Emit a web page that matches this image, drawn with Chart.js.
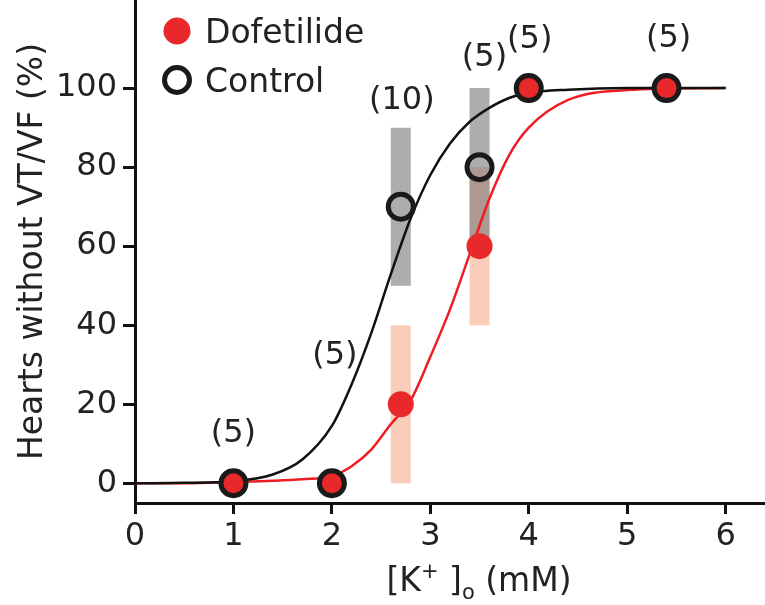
<!DOCTYPE html>
<html><head><meta charset="utf-8">
<script src="https://cdn.jsdelivr.net/npm/chart.js@4.4.0/dist/chart.umd.min.js"></script>
<style>html,body{margin:0;padding:0;background:#fff}#wrap{width:765px;height:605px}</style>
</head><body><div id="wrap"><canvas id="c" width="765" height="605"></canvas></div>
<script>
// ---- data ----
const seriesNames = ['Dofetilide', 'Control'];
const concentrations = [1, 2, 2.7, 3.5, 4, 5.4];
const controlValues = [0, 0, 70, 80, 100, 100];
const controlErrors = [0, 0, 20, 20, 0, 0];
const dofetilideValues = [0, 0, 20, 60, 100, 100];
const dofetilideErrors = [0, 0, 20, 20, 0, 0];
const sampleSizes = ['(5)', '(5)', '(10)', '(5)', '(5)', '(5)'];
const fitX = [0, 0.5, 1.0, 1.4, 1.7, 2.0, 2.2, 2.4, 2.6, 2.8, 3.0, 3.2, 3.4, 3.6, 3.8, 4.0, 4.4, 5.0, 6.0];
const controlFit = [0, 0.1, 0.5, 2.2, 6, 14.5, 25, 38, 53, 67, 78, 86, 91.5, 95, 97.5, 98.8, 99.6, 100, 100];
const dofetilideFit = [0, 0, 0.3, 0.6, 1.0, 1.8, 4.3, 8.5, 15, 21, 32, 44, 58, 72, 83, 90, 97, 99.5, 100];
const xTickValues = [0, 1, 2, 3, 4, 5, 6];
const yTickValues = [0, 20, 40, 60, 80, 100];
const yTitle = 'Hearts without VT/VF (%)';

// ---- layout / style (not data) ----
const FONT = '"DejaVu Sans", sans-serif';
const TXT = '#222';
const labelOffsets = [[0, -50], [3, -128], [1, -27], [5, -30], [1, -48], [2, -49]];

function pts(xs, ys) { return xs.map((x, i) => ({x: x, y: ys[i]})); }
function bars(xs, vals, errs) {
  const out = [];
  xs.forEach((x, i) => {
    if (errs[i] > 0) {
      out.push({x: x, y: vals[i] - errs[i]}, {x: x, y: vals[i] + errs[i]}, {x: x, y: null});
    }
  });
  return out;
}

const overlay = {
  id: 'overlay',
  afterDatasetsDraw(chart) {
    const ctx = chart.ctx, xs = chart.scales.x, ys = chart.scales.y;
    ctx.save();
    // sample size labels
    ctx.fillStyle = TXT;
    ctx.font = '32px ' + FONT;
    ctx.textAlign = 'center';
    ctx.textBaseline = 'middle';
    sampleSizes.forEach((t, i) => {
      const px = xs.getPixelForValue(concentrations[i]) + labelOffsets[i][0];
      const py = ys.getPixelForValue(controlValues[i] + controlErrors[i]) + labelOffsets[i][1];
      ctx.fillText(t, px, py);
    });
    // legend
    const lx = 177;
    ctx.beginPath(); ctx.arc(lx, 31, 13.5, 0, Math.PI * 2); ctx.fillStyle = '#e8282b'; ctx.fill();
    ctx.beginPath(); ctx.arc(lx, 80, 12.5, 0, Math.PI * 2); ctx.lineWidth = 5; ctx.strokeStyle = '#1a1a1a'; ctx.stroke();
    ctx.fillStyle = TXT;
    ctx.textAlign = 'left';
    ctx.textBaseline = 'alphabetic';
    ctx.font = '33px ' + FONT;
    ctx.fillText(seriesNames[0], 205, 43);
    ctx.fillText(seriesNames[1], 205, 92);
    // x axis title [K+]o (mM)
    const big = '33px ' + FONT, small = '21px ' + FONT;
    const parts = [['[K', big, 0], ['+', small, -13], [' ]', big, 0], ['o', small, 8], [' (mM)', big, 0]];
    let w = 0;
    parts.forEach(p => { ctx.font = p[1]; w += ctx.measureText(p[0]).width; });
    let x = 479 - w / 2;
    const base = 591;
    parts.forEach(p => { ctx.font = p[1]; ctx.fillText(p[0], x, base + p[2]); x += ctx.measureText(p[0]).width; });
    ctx.restore();
  }
};

new Chart(document.getElementById('c'), {
  type: 'scatter',
  data: {
    datasets: [
      {label: seriesNames[1], data: pts(concentrations, controlValues), order: 0,
       pointRadius: 12.5, pointBorderWidth: 5, pointBorderColor: '#1a1a1a', pointBackgroundColor: 'rgba(0,0,0,0)', showLine: false, clip: false},
      {label: seriesNames[0], data: pts(concentrations, dofetilideValues), order: 1,
       pointRadius: 13, pointBorderWidth: 0, pointBackgroundColor: '#e8282b', showLine: false, clip: false},
      {type: 'line', label: 'Control fit', data: pts(fitX, controlFit), order: 2,
       borderColor: '#111', borderWidth: 2.5, pointRadius: 0, cubicInterpolationMode: 'monotone', fill: false, clip: false},
      {type: 'line', label: 'Dofetilide fit', data: pts(fitX, dofetilideFit), order: 3,
       borderColor: '#ee1d23', borderWidth: 2.5, pointRadius: 0, cubicInterpolationMode: 'monotone', fill: false, clip: false},
      {type: 'line', label: 'Control SE', data: bars(concentrations, controlValues, controlErrors), order: 4,
       borderColor: 'rgba(118,118,118,0.6)', borderWidth: 20, borderCapStyle: 'butt', pointRadius: 0, spanGaps: false, fill: false},
      {type: 'line', label: 'Dofetilide SE', data: bars(concentrations, dofetilideValues, dofetilideErrors), order: 5,
       borderColor: '#facdbb', borderWidth: 20, borderCapStyle: 'butt', pointRadius: 0, spanGaps: false, fill: false}
    ]
  },
  options: {
    responsive: false,
    animation: false,
    events: [],
    layout: {padding: 0, autoPadding: false},
    plugins: {legend: {display: false}, tooltip: {enabled: false}},
    scales: {
      x: {
        type: 'linear', min: 0, max: 6.4,
        afterBuildTicks: s => { s.ticks = xTickValues.map(v => ({value: v})); },
        afterFit: s => { s.height = 102; s.paddingLeft = 0; s.paddingRight = 0; },
        border: {display: true, width: 3, color: '#111'},
        grid: {drawOnChartArea: false, drawTicks: true, tickLength: 11, tickWidth: 3, tickColor: '#111'},
        ticks: {color: TXT, font: {family: FONT, size: 32}, padding: 3, maxRotation: 0, autoSkip: false}
      },
      y: {
        type: 'linear', min: -5, max: 122.3,
        afterBuildTicks: s => { s.ticks = yTickValues.map(v => ({value: v})); },
        afterFit: s => { s.width = 135; s.paddingTop = 0; s.paddingBottom = 0; },
        border: {display: true, width: 3, color: '#111'},
        grid: {drawOnChartArea: false, drawTicks: true, tickLength: 12, tickWidth: 3, tickColor: '#111'},
        ticks: {color: TXT, font: {family: FONT, size: 32}, padding: 6, autoSkip: false},
        title: {display: true, text: yTitle, color: TXT, font: {family: FONT, size: 33}, padding: {top: 14, bottom: 0}}
      }
    }
  },
  plugins: [overlay]
});
</script>
</body></html>
